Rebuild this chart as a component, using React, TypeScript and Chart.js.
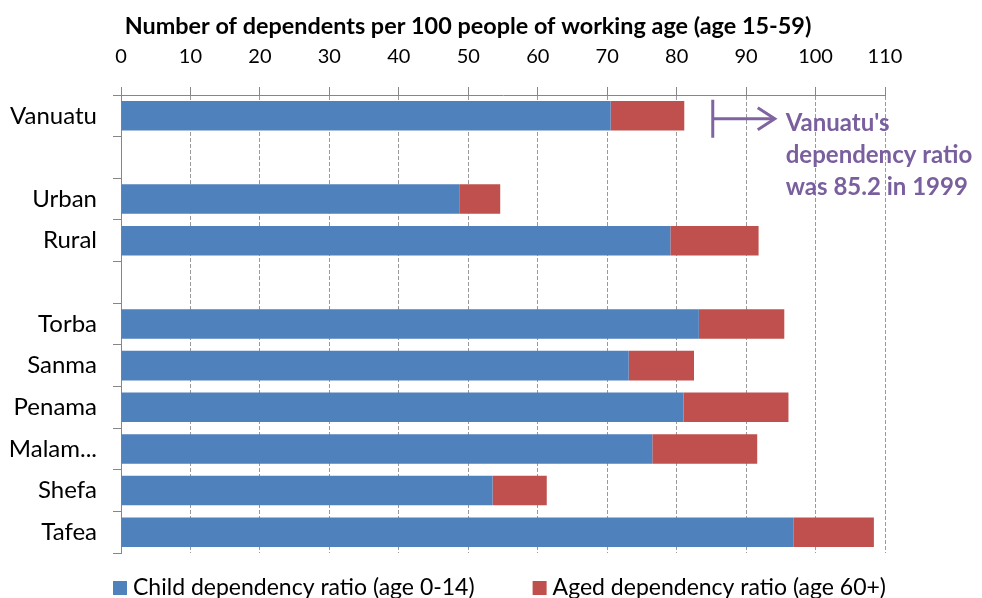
import React, { useEffect, useRef } from 'react';
import { Chart, registerables } from 'chart.js';

Chart.register(...registerables);

const categories = ['Vanuatu', '', 'Urban', 'Rural', '', 'Torba', 'Sanma', 'Penama', 'Malam...', 'Shefa', 'Tafea'];
const childRatio = [70.5, null, 48.7, 79.1, null, 83.2, 73.1, 81.0, 76.5, 53.5, 96.8];
const agedRatio = [10.6, null, 5.9, 12.7, null, 12.3, 9.4, 15.1, 15.1, 7.8, 11.6];
const seriesLabels = ['Child dependency ratio (age 0-14)', 'Aged dependency ratio (age 60+)'];
const seriesColors = ['#4F81BD', '#C0504D'];
const axisMin = 0;
const axisMax = 110;
const axisStep = 10;
const axisTitle = 'Number of dependents per 100 people of working age (age 15-59)';
const ratio1999 = 85.2;
const noteLines = ["Vanuatu's", 'dependency ratio', 'was 85.2 in 1999'];

const FONT = 'Lato, "Open Sans", sans-serif';
const AXIS_GREY = '#868686';
const NOTE_PURPLE = '#8064A2';

const overlayPlugin = {
  id: 'overlay',
  afterDraw(chart: any) {
    const ctx = chart.ctx as CanvasRenderingContext2D;
    const xs = chart.scales.x;
    const ys = chart.scales.y;
    const area = chart.chartArea;
    ctx.save();

    // extend top axis line to the left tick end
    ctx.strokeStyle = AXIS_GREY;
    ctx.lineWidth = 1;
    ctx.beginPath();
    ctx.moveTo(area.left - 8, area.top + 0.5);
    ctx.lineTo(area.left, area.top + 0.5);
    ctx.stroke();

    // axis title
    ctx.font = `bold 23.4px ${FONT}`;
    ctx.fillStyle = '#000000';
    ctx.textAlign = 'center';
    ctx.textBaseline = 'alphabetic';
    ctx.fillText(axisTitle, 468, 34);

    // annotation marker at 1999 ratio
    const x = xs.getPixelForValue(ratio1999);
    const y = ys.getPixelForValue(0) + 3;
    ctx.strokeStyle = NOTE_PURPLE;
    ctx.lineWidth = 3;
    ctx.lineCap = 'butt';
    ctx.beginPath();
    ctx.moveTo(x, y - 19);
    ctx.lineTo(x, y + 19);
    ctx.moveTo(x, y);
    ctx.lineTo(x + 61, y);
    ctx.stroke();
    ctx.beginPath();
    ctx.lineJoin = 'miter';
    ctx.moveTo(x + 45, y - 11);
    ctx.lineTo(x + 62, y);
    ctx.lineTo(x + 45, y + 11);
    ctx.stroke();

    ctx.font = `bold 24px ${FONT}`;
    ctx.fillStyle = '#7A5F9E';
    ctx.textAlign = 'left';
    ctx.textBaseline = 'alphabetic';
    noteLines.forEach((line, i) => {
      ctx.fillText(line, x + 73, y + 12 + i * 32);
    });

    // legend
    ctx.font = `23px ${FONT}`;
    ctx.textBaseline = 'middle';
    let lx = area.left - 8;
    const ly = 588;
    chart.data.datasets.forEach((ds: any) => {
      ctx.fillStyle = ds.backgroundColor;
      ctx.fillRect(lx, ly - 7, 14, 14);
      ctx.fillStyle = '#000000';
      ctx.fillText(ds.label, lx + 20, ly);
      lx += 20 + ctx.measureText(ds.label).width + 58;
    });

    ctx.restore();
  },
};

export default function App() {
  const canvasRef = useRef<HTMLCanvasElement | null>(null);

  useEffect(() => {
    if (!canvasRef.current) return;
    const chart = new Chart(canvasRef.current, {
      type: 'bar',
      data: {
        labels: categories,
        datasets: [
          {
            label: seriesLabels[0],
            data: childRatio,
            backgroundColor: seriesColors[0],
            borderWidth: 0,
            barPercentage: 0.71,
            categoryPercentage: 1,
          },
          {
            label: seriesLabels[1],
            data: agedRatio,
            backgroundColor: seriesColors[1],
            borderWidth: 0,
            barPercentage: 0.71,
            categoryPercentage: 1,
          },
        ],
      },
      options: {
        indexAxis: 'y',
        responsive: false,
        animation: false,
        devicePixelRatio: 1,
        layout: { padding: { left: 0, right: 97, top: 0, bottom: 45 } },
        plugins: {
          legend: { display: false },
          title: { display: false },
          tooltip: { enabled: false },
        },
        scales: {
          x: {
            type: 'linear',
            position: 'top',
            stacked: true,
            min: axisMin,
            max: axisMax,
            ticks: {
              stepSize: axisStep,
              padding: 18,
              color: '#000000',
              font: { family: FONT, size: 20 },
              maxRotation: 0,
            },
            grid: {
              color: '#9A9A9A',
              lineWidth: 1,
              drawTicks: true,
              tickLength: 8,
              tickColor: AXIS_GREY,
              tickBorderDash: [],
            },
            border: { display: true, color: AXIS_GREY, width: 1, dash: [4, 2] },
            afterFit: (scale: any) => {
              scale.height = 95;
            },
          },
          y: {
            type: 'category',
            stacked: true,
            ticks: {
              padding: 16,
              color: '#000000',
              font: { family: FONT, size: 24 },
              autoSkip: false,
            },
            grid: {
              drawOnChartArea: false,
              drawTicks: true,
              tickLength: 8,
              color: AXIS_GREY,
              offset: true,
            },
            border: { display: true, color: AXIS_GREY, width: 1 },
            afterFit: (scale: any) => {
              scale.width = 121;
            },
          },
        },
      },
      plugins: [overlayPlugin],
    });
    return () => chart.destroy();
  }, []);

  return (
    <div style={{ position: 'fixed', left: 0, top: 0, width: 982, height: 598, background: '#ffffff' }}>
      <canvas ref={canvasRef} width={982} height={598} style={{ display: 'block', width: 982, height: 598 }} />
    </div>
  );
}
